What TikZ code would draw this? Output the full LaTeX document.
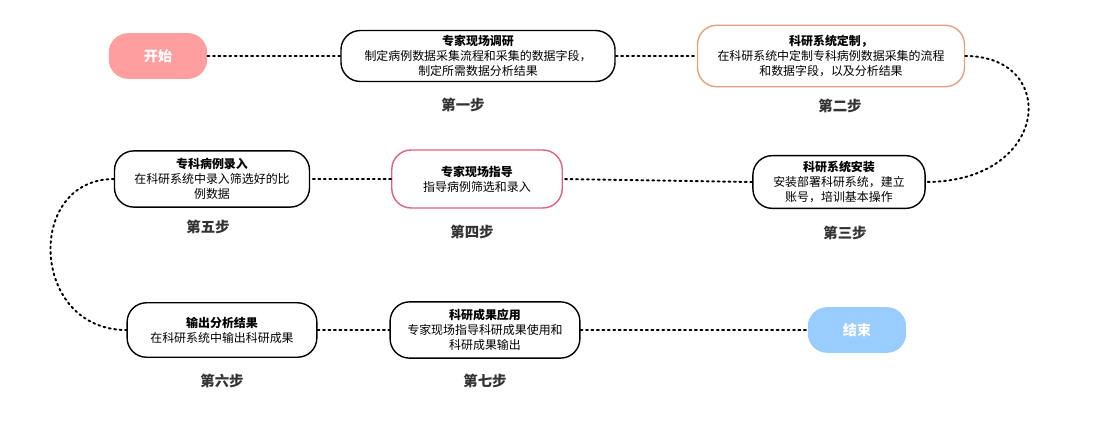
\documentclass[tikz,border=0pt]{standalone}
\usepackage{fontspec}
\setmainfont{Noto Sans CJK SC}
\begin{document}
\begin{tikzpicture}[x=0.02cm, y=-0.02cm,
    stepbox/.style={draw, thick, rounded corners=11pt, align=center, font=\fontsize{6.8}{8.6}\selectfont, inner sep=0pt},
    pill/.style={rounded corners=11pt, text=white, font=\fontsize{8}{9}\selectfont\bfseries, minimum width=56pt, minimum height=26pt},
    steplabel/.style={font=\fontsize{8.2}{9}\selectfont\bfseries, text=black!80},
    link/.style={dotted, line width=1.1pt, line cap=round}]
        \useasboundingbox (0,0) rectangle (1093,426);
        \node[pill, fill={rgb,255:red,255;green,158;blue,158}] (start) at (158,56) {开始};
        \node[stepbox, minimum width=156pt, minimum height=29pt] (s1) at (478,56) {\textbf{专家现场调研}\\制定病例数据采集流程和采集的数据字段，\\制定所需数据分析结果};
        \node[stepbox, draw={rgb,255:red,232;green,160;blue,122}, minimum width=152pt, minimum height=35pt] (s2) at (831,56) {\textbf{科研系统定制，}\\在科研系统中定制专科病例数据采集的流程\\和数据字段，以及分析结果};
        \node[stepbox, minimum width=98pt, minimum height=30pt] (s3) at (839,182) {\textbf{科研系统安装}\\安装部署科研系统，建立\\账号，培训基本操作};
        \node[stepbox, draw={rgb,255:red,224;green,96;blue,128}, minimum width=97pt, minimum height=33pt] (s4) at (477,179) {\textbf{专家现场指导}\\指导病例筛选和录入};
        \node[stepbox, minimum width=111pt, minimum height=32pt] (s5) at (212,179) {\textbf{专科病例录入}\\在科研系统中录入筛选好的比\\例数据};
        \node[stepbox, minimum width=108pt, minimum height=31pt] (s6) at (222,330) {\textbf{输出分析结果}\\在科研系统中输出科研成果};
        \node[stepbox, minimum width=108pt, minimum height=32pt] (s7) at (485,330) {\textbf{科研成果应用}\\专家现场指导科研成果使用和\\科研成果输出};
        \node[pill, fill={rgb,255:red,153;green,204;blue,255}] (end) at (857,330) {结束};

        \node[steplabel] (l1) at (463,105) {第一步};
        \node[steplabel] (l2) at (840,106) {第二步};
        \node[steplabel] (l3) at (845,233) {第三步};
        \node[steplabel] (l4) at (472,232) {第四步};
        \node[steplabel] (l5) at (208,227) {第五步};
        \node[steplabel] (l6) at (222,381) {第六步};
        \node[steplabel] (l7) at (485,381) {第七步};

        \draw[link] (start) -- (s1);
        \draw[link] (s1) -- (s2);
        \draw[link] (s2.east) .. controls (1060,56) and (1050,182) .. (s3.east);
        \draw[link] (s3.west) -- (s4.east);
        \draw[link] (s4.west) -- (s5.east);
        \draw[link] (s5.west) .. controls (25,179) and (30,330) .. (s6.west);
        \draw[link] (s6) -- (s7);
        \draw[link] (s7) -- (end);
    \end{tikzpicture}
\end{document}
